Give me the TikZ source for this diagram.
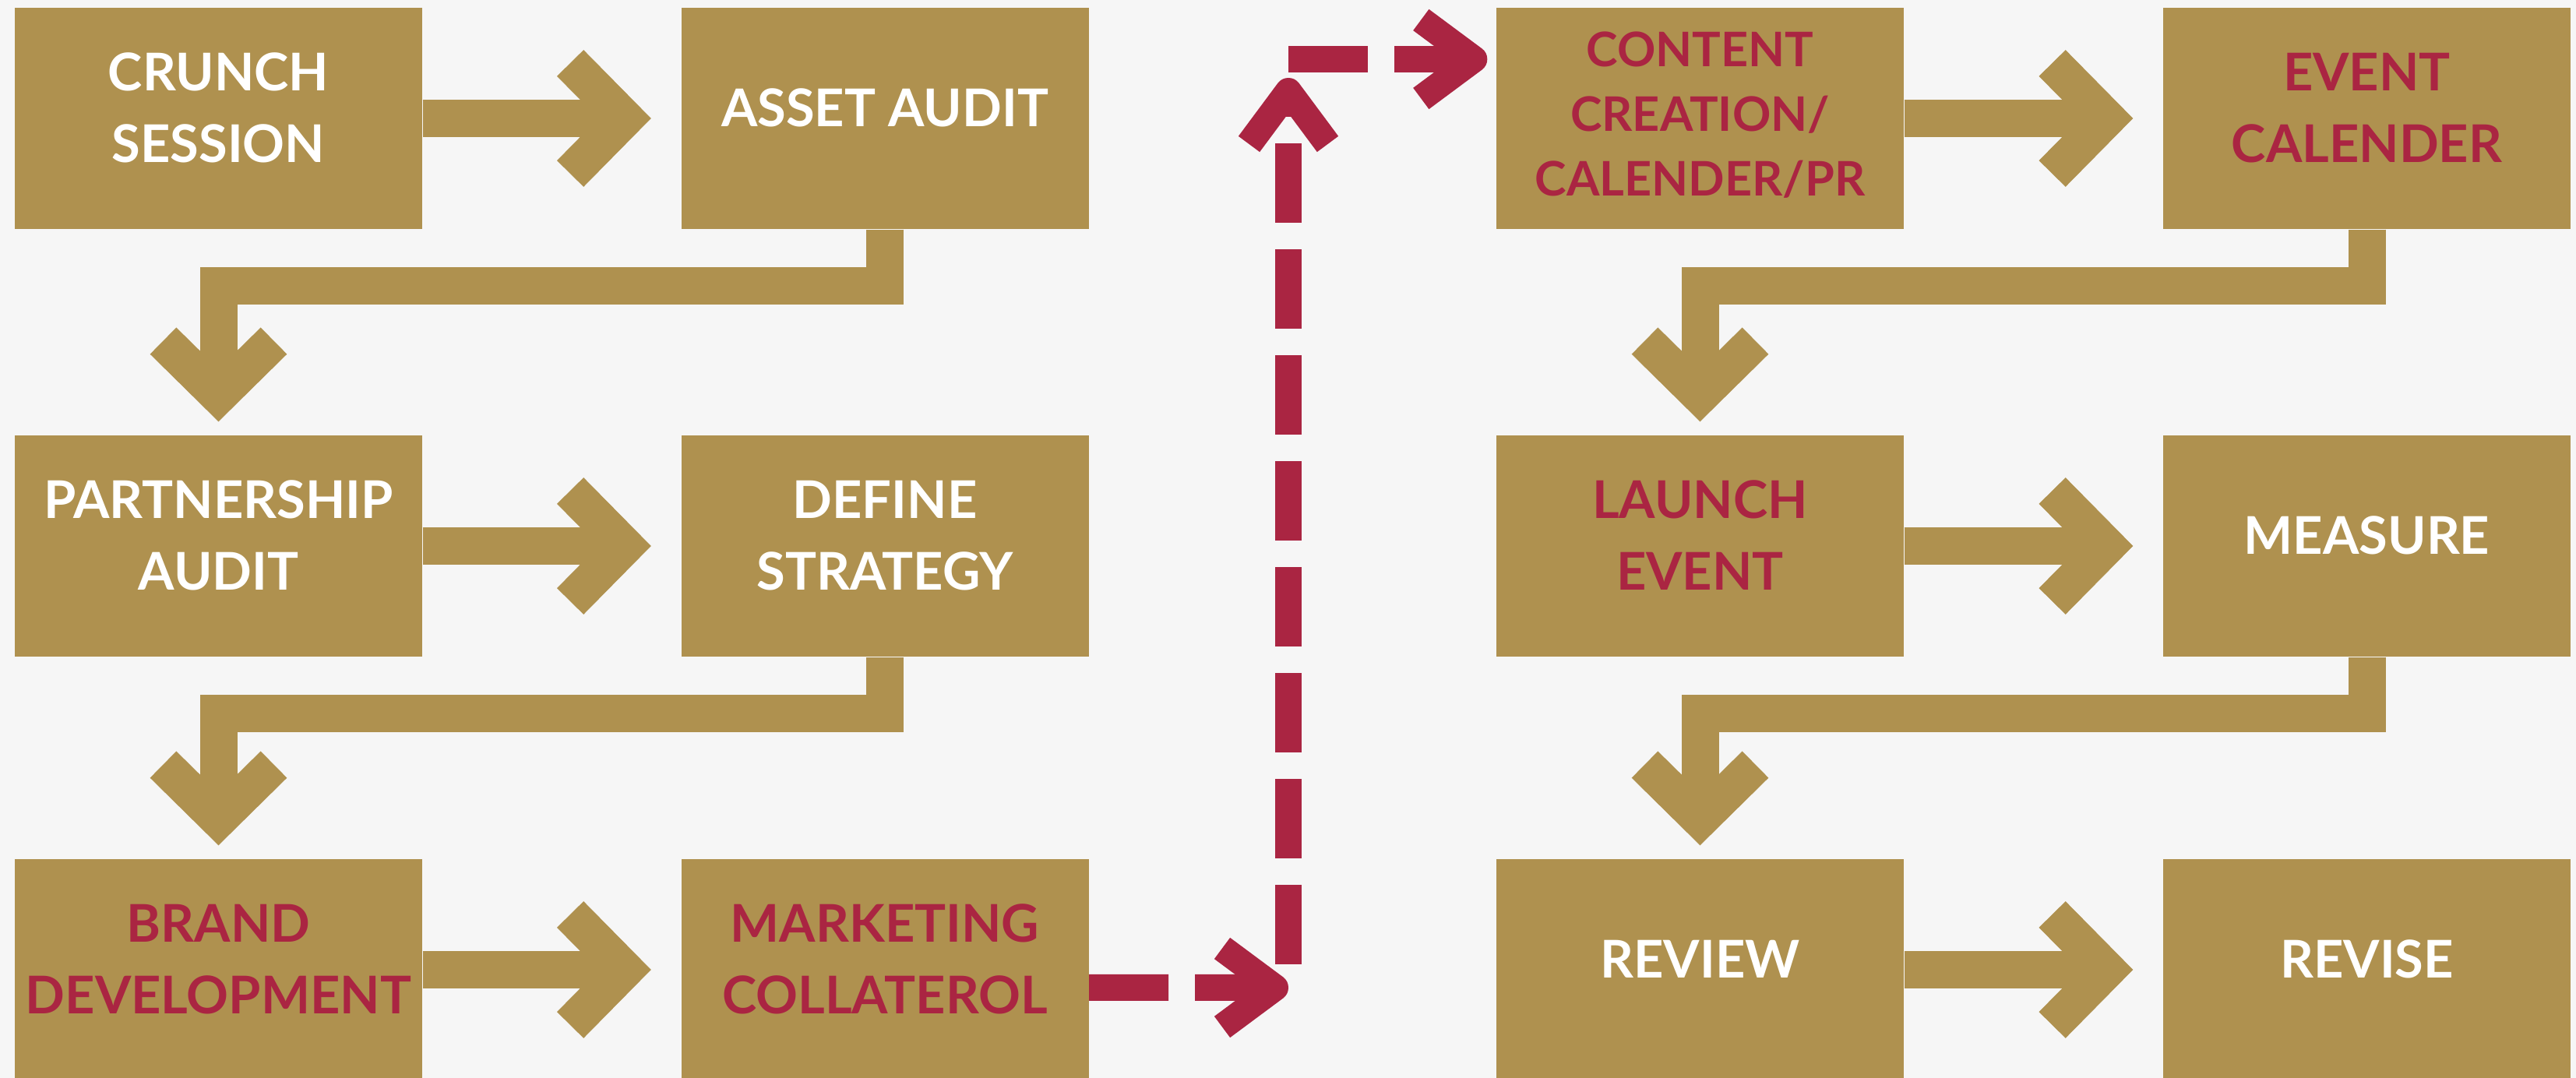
\documentclass[tikz,border=0pt]{standalone}
\usepackage{fontspec}
\setmainfont{Lato}
\usetikzlibrary{arrows.meta}

\definecolor{gold}{RGB}{175,145,79}
\definecolor{crimson}{RGB}{170,37,66}
\definecolor{paper}{RGB}{246,246,246}

\tikzset{
	box/.style={fill=gold, minimum width=5.23cm, minimum height=2.84cm, inner sep=0pt, align=center, text depth=0.28cm, font=\bfseries\fontsize{19}{26.2}\selectfont},
	light/.style={box, text=white},
	dark/.style={box, text=crimson},
	tight/.style={text depth=0.12cm, font=\bfseries\fontsize{17.4}{23.6}\selectfont},
	goldarrow/.style={draw=gold, line width=0.48cm, line join=miter, -{Straight Barb[length=0.70cm, width=1.42cm, sharp]}},
	redarrow/.style={draw=crimson, line width=0.34cm, dash pattern=on 1.02cm off 0.34cm, -{Straight Barb[length=0.68cm, width=1.01cm, line join=round, line cap=butt]}}
}

\begin{document}
\begin{tikzpicture}

		\fill [paper] (0, 0) rectangle (33.07, -13.84);
		\useasboundingbox (0, 0) rectangle (33.07, -13.84);

		\node [light] (crunch) at (2.805, -1.52) {CRUNCH\\SESSION};
		\node [light] (asset) at (11.36, -1.52) {ASSET AUDIT};
		\node [dark, tight] (content) at (21.825, -1.52) {CONTENT\\CREATION/\\CALENDER/PR};
		\node [dark] (eventcal) at (30.385, -1.52) {EVENT\\CALENDER};

		\node [light] (partner) at (2.805, -7.01) {PARTNERSHIP\\AUDIT};
		\node [light] (strategy) at (11.36, -7.01) {DEFINE\\STRATEGY};
		\node [dark] (launch) at (21.825, -7.01) {LAUNCH\\EVENT};
		\node [light] (measure) at (30.385, -7.01) {MEASURE};

		\node [dark] (brand) at (2.805, -12.45) {BRAND\\DEVELOPMENT};
		\node [dark] (collateral) at (11.36, -12.45) {MARKETING\\COLLATEROL};
		\node [light] (review) at (21.825, -12.45) {REVIEW};
		\node [light] (revise) at (30.385, -12.45) {REVISE};

		\draw [goldarrow, shorten >=0.38cm] (crunch.east) -- (asset.west);
		\draw [goldarrow, shorten >=0.38cm] (partner.east) -- (strategy.west);
		\draw [goldarrow, shorten >=0.38cm] (brand.east) -- (collateral.west);
		\draw [goldarrow, shorten >=0.38cm] (content.east) -- (eventcal.west);
		\draw [goldarrow, shorten >=0.38cm] (launch.east) -- (measure.west);
		\draw [goldarrow, shorten >=0.38cm] (review.east) -- (revise.west);

		\draw [goldarrow, shorten >=0.17cm] (asset.south) -- ++(0, -0.72) -| (partner.north);
		\draw [goldarrow, shorten >=0.17cm] (strategy.south) -- ++(0, -0.72) -| (brand.north);
		\draw [goldarrow, shorten >=0.17cm] (eventcal.south) -- ++(0, -0.72) -| (launch.north);
		\draw [goldarrow, shorten >=0.17cm] (measure.south) -- ++(0, -0.72) -| (review.north);

		\coordinate (low) at (16.54, -12.68);
		\coordinate (high) at (16.54, -0.76);

		\draw [redarrow] ([yshift=-0.23cm]collateral.east) -- (low);
		\draw [redarrow] ([yshift=0.30cm]low) -- ([yshift=-0.24cm]high);
		\draw [redarrow, shorten >=0.11cm] (high) -- (content.west |- high);

\end{tikzpicture}
\end{document}
